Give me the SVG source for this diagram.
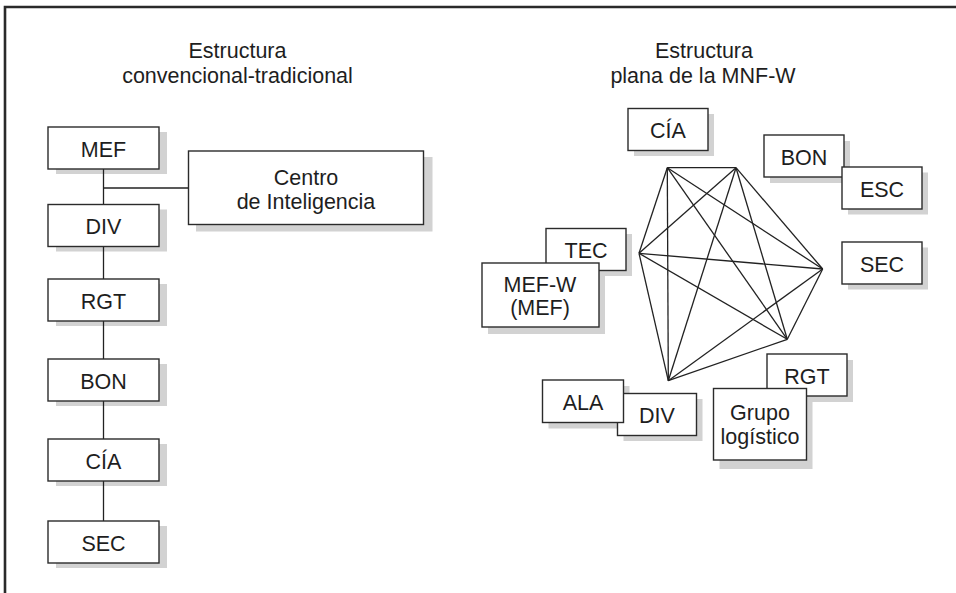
<svg xmlns="http://www.w3.org/2000/svg" width="956" height="593" viewBox="0 0 956 593">
<style>
  .box{fill:#fff;stroke:#2b2b2b;stroke-width:1.4}
  .sh{fill:#d2d2d2}
  .lbl{font-family:"Liberation Sans",Arial,sans-serif;font-size:21.5px;fill:#1e1e1e;text-anchor:middle}
  .ln{stroke:#222;stroke-width:1.3;fill:none}
</style>
<rect width="956" height="593" fill="#fff"/>
<polyline points="5,593 5,7 956,7" fill="none" stroke="#2a2a2a" stroke-width="2.6"/>

<g id="titles">
  <text class="lbl" x="237.5" y="58">Estructura</text>
  <text class="lbl" x="237.5" y="83">convencional-tradicional</text>
  <text class="lbl" x="704" y="58">Estructura</text>
  <text class="lbl" x="703" y="83">plana de la MNF-W</text>
</g>

<g id="shadows">
  <rect class="sh" x="56" y="132" width="111" height="42"/>
  <rect class="sh" x="56" y="209.5" width="111" height="42"/>
  <rect class="sh" x="56" y="284" width="111" height="42"/>
  <rect class="sh" x="56" y="364" width="111" height="42"/>
  <rect class="sh" x="56" y="444" width="111" height="42"/>
  <rect class="sh" x="56" y="526" width="111" height="42"/>
  <rect class="sh" x="196" y="157" width="236.5" height="74.5"/>
  <rect class="sh" x="634" y="114" width="80" height="42"/>
  <rect class="sh" x="770" y="141" width="80" height="42"/>
  <rect class="sh" x="848" y="172.5" width="80" height="42"/>
  <rect class="sh" x="848" y="247.5" width="80" height="42"/>
  <rect class="sh" x="552" y="234" width="80" height="42"/>
  <rect class="sh" x="488" y="269" width="117" height="65"/>
  <rect class="sh" x="548.5" y="386" width="81" height="42.5"/>
  <rect class="sh" x="623.5" y="399" width="79" height="42"/>
  <rect class="sh" x="773" y="360" width="80" height="42"/>
  <rect class="sh" x="719.5" y="397" width="93" height="72"/>
</g>

<g id="connectors">
  <line class="ln" x1="103.5" y1="169" x2="103.5" y2="204.5"/>
  <line class="ln" x1="103.5" y1="188" x2="188.5" y2="188"/>
  <line class="ln" x1="103.5" y1="246.5" x2="103.5" y2="279"/>
  <line class="ln" x1="103.5" y1="321" x2="103.5" y2="359"/>
  <line class="ln" x1="103.5" y1="401" x2="103.5" y2="439"/>
  <line class="ln" x1="103.5" y1="481" x2="103.5" y2="521"/>
  <g id="mesh">
    <line class="ln" x1="667.3" y1="167.7" x2="736" y2="167.7"/>
    <line class="ln" x1="667.3" y1="167.7" x2="639" y2="253.3"/>
    <line class="ln" x1="667.3" y1="167.7" x2="822.7" y2="269"/>
    <line class="ln" x1="667.3" y1="167.7" x2="787.3" y2="339.3"/>
    <line class="ln" x1="667.3" y1="167.7" x2="668.3" y2="380.7"/>
    <line class="ln" x1="736" y1="167.7" x2="639" y2="253.3"/>
    <line class="ln" x1="736" y1="167.7" x2="822.7" y2="269"/>
    <line class="ln" x1="736" y1="167.7" x2="787.3" y2="339.3"/>
    <line class="ln" x1="736" y1="167.7" x2="668.3" y2="380.7"/>
    <line class="ln" x1="639" y1="253.3" x2="822.7" y2="269"/>
    <line class="ln" x1="639" y1="253.3" x2="787.3" y2="339.3"/>
    <line class="ln" x1="639" y1="253.3" x2="668.3" y2="380.7"/>
    <line class="ln" x1="822.7" y1="269" x2="787.3" y2="339.3"/>
    <line class="ln" x1="822.7" y1="269" x2="668.3" y2="380.7"/>
    <line class="ln" x1="787.3" y1="339.3" x2="668.3" y2="380.7"/>
  </g>
</g>

<g id="L-MEF"><rect class="box" x="48" y="127" width="111" height="42"/><text class="lbl" x="103.5" y="156.5">MEF</text></g>
<g id="L-DIV"><rect class="box" x="48" y="204.5" width="111" height="42"/><text class="lbl" x="103.5" y="234">DIV</text></g>
<g id="L-RGT"><rect class="box" x="48" y="279" width="111" height="42"/><text class="lbl" x="103.5" y="308.5">RGT</text></g>
<g id="L-BON"><rect class="box" x="48" y="359" width="111" height="42"/><text class="lbl" x="103.5" y="388.5">BON</text></g>
<g id="L-CIA"><rect class="box" x="48" y="439" width="111" height="42"/><text class="lbl" x="103.5" y="468.5">CÍA</text></g>
<g id="L-SEC"><rect class="box" x="48" y="521" width="111" height="42"/><text class="lbl" x="103.5" y="550.5">SEC</text></g>
<g id="L-Centro"><rect class="box" x="188.5" y="151" width="235" height="73.5"/><text class="lbl" x="306" y="184.5">Centro</text><text class="lbl" x="306" y="209">de Inteligencia</text></g>

<g id="R-CIA"><rect class="box" x="628" y="108.5" width="80" height="42"/><text class="lbl" x="668" y="138">CÍA</text></g>
<g id="R-BON"><rect class="box" x="764" y="135" width="80" height="42"/><text class="lbl" x="804" y="164.5">BON</text></g>
<g id="R-ESC"><rect class="box" x="842" y="167" width="80" height="42"/><text class="lbl" x="882" y="196.5">ESC</text></g>
<g id="R-SEC"><rect class="box" x="842" y="242" width="80" height="42"/><text class="lbl" x="882" y="271.5">SEC</text></g>
<g id="R-TEC"><rect class="box" x="546" y="228.5" width="80" height="42"/><text class="lbl" x="586" y="258">TEC</text></g>
<g id="R-MEFW"><rect class="box" x="482" y="263" width="117" height="64"/><text class="lbl" x="540" y="291.5">MEF-W</text><text class="lbl" x="540" y="314.5">(MEF)</text></g>
<g id="R-DIV"><rect class="box" x="617.5" y="393.5" width="79" height="42"/><text class="lbl" x="657" y="423">DIV</text></g>
<g id="R-ALA"><rect class="box" x="542.5" y="380" width="81" height="42.5"/><text class="lbl" x="583" y="409.5">ALA</text></g>
<g id="R-RGT"><rect class="box" x="767" y="354" width="80" height="42"/><text class="lbl" x="807" y="383.5">RGT</text></g>
<g id="R-Grupo"><rect class="box" x="713.5" y="388.5" width="93" height="71.5"/><text class="lbl" x="760" y="419.5">Grupo</text><text class="lbl" x="760" y="444">logístico</text></g>
</svg>
